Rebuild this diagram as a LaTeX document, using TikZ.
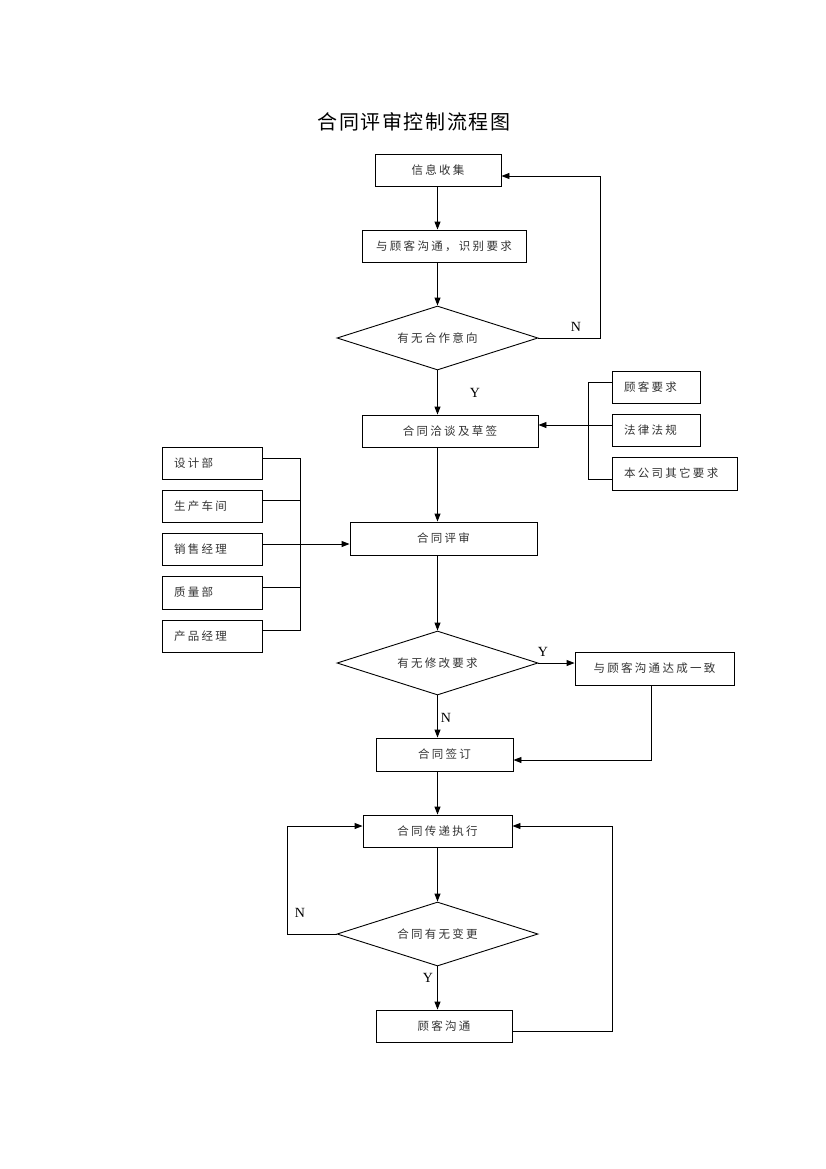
\documentclass[tikz,border=0pt]{standalone}
\usepackage{fontspec}
\setmainfont{Liberation Serif}
\newfontfamily\cjk[LetterSpace=20]{Noto Sans CJK SC}
\newfontfamily\cjktitle[LetterSpace=8]{Noto Sans CJK SC}
\usetikzlibrary{shapes.geometric,arrows.meta}
\begin{document}
\begin{tikzpicture}[x=1pt,y=-1pt,
  line width=0.9pt,
  arr/.style={-{Triangle[length=8pt,width=6pt]}},
  box/.style={draw,minimum width=#1,minimum height=32pt,inner sep=0pt,
    font=\cjk\fontsize{11.5}{13}\selectfont,text=black!80},
  sidebox/.style={draw,minimum height=32pt,inner xsep=12pt,inner ysep=0pt,
    text width=#1,align=left,font=\cjk\fontsize{11.5}{13}\selectfont,text=black!80},
  dia/.style={draw,diamond,aspect=3.14,minimum width=201pt,minimum height=64pt,
    inner sep=0pt,font=\cjk\fontsize{11.5}{13}\selectfont,text=black!80},
  lab/.style={font=\fontsize{14}{16}\selectfont}
]
\useasboundingbox (0,0) rectangle (826,1169);

\node (title) at (414,122) {\cjktitle\fontsize{20}{24}\selectfont 合同评审控制流程图};

\node[box=126] (b1) at (438,170) {信息收集};
\node[box=164] (b2) at (444,246) {与顾客沟通，识别要求};
\node[dia] (d1) at (437.5,338) {有无合作意向};
\node[box=176] (b3) at (450,431) {合同洽谈及草签};
\node[box=187,minimum height=33pt] (b4) at (443.5,538.5) {合同评审};
\node[dia] (d2) at (437.5,663) {有无修改要求};
\node[box=159,minimum height=33pt] (b5) at (654.5,668.5) {与顾客沟通达成一致};
\node[box=137,minimum height=33pt] (b6) at (444.5,754.5) {合同签订};
\node[box=149] (b7) at (437.5,831) {合同传递执行};
\node[dia] (d3) at (437.5,934) {合同有无变更};
\node[box=136] (b8) at (444,1026) {顾客沟通};

\node[sidebox=64pt] (r1) at (656,387) {顾客要求};
\node[sidebox=64pt] (r2) at (656,430) {法律法规};
\node[sidebox=101pt,minimum height=33pt] (r3) at (674.5,473.5) {本公司其它要求};

\node[sidebox=76pt] (l1) at (212,463) {设计部};
\node[sidebox=76pt] (l2) at (212,506) {生产车间};
\node[sidebox=76pt] (l3) at (212,549) {销售经理};
\node[sidebox=76pt,minimum height=33pt] (l4) at (212,592.5) {质量部};
\node[sidebox=76pt] (l5) at (212,636) {产品经理};

\node[lab] (n1) at (576,327) {N};
\node[lab] (y1) at (475,393) {Y};
\node[lab] (y2) at (543,652) {Y};
\node[lab] (n2) at (446,718) {N};
\node[lab] (n3) at (300,913) {N};
\node[lab] (y3) at (428,978) {Y};

% main column
\draw[arr] (b1.south -| d1.north) -- (b2.north -| d1.north);
\draw[arr] (b2.south -| d1.north) -- (d1.north);
\draw[arr] (d1.south) -- (b3.north -| d1.south);
\draw[arr] (b3.south -| d1.north) -- (b4.north -| d1.north);
\draw[arr] (b4.south -| d2.north) -- (d2.north);
\draw[arr] (d2.south) -- (b6.north -| d2.south);
\draw[arr] (b6.south -| d2.south) -- (b7.north -| d2.south);
\draw[arr] (b7.south) -- (d3.north);
\draw[arr] (d3.south) -- (b8.north -| d3.south);

% N loop top
\coordinate (c1) at (600,176);
\draw[arr] (d1.east) -| (c1) -- (c1 -| b1.east);

% Y branch
\draw[arr] (d2.east) -- (b5.west |- d2.east);
\coordinate (c2) at (651,760);
\draw[arr] (b5.south -| c2) -- (c2) -- (c2 -| b6.east);

% bottom loops
\coordinate (c3) at (287,826);
\draw[arr] (d3.west) -| (c3) -- (c3 -| b7.west);
\coordinate (c4) at (612,826);
\coordinate (c5) at (612,1031);
\draw[arr] (c5 -| b8.east) -- (c5) -- (c4) -- (c4 -| b7.east);

% right bracket
\coordinate (rt) at (588,382);
\coordinate (rm) at (588,425);
\coordinate (rb) at (588,479);
\draw (rt -| r1.west) -- (rt) -- (rb) -- (rb -| r3.west);
\draw (rm -| r2.west) -- (rm);
\draw[arr] (rm) -- (rm -| b3.east);

% left bracket
\coordinate (lt) at (300,458);
\coordinate (la) at (300,500);
\coordinate (lm) at (300,544);
\coordinate (lc) at (300,587);
\coordinate (lb) at (300,630);
\draw (lt -| l1.east) -- (lt) -- (lb) -- (lb -| l5.east);
\draw (la -| l2.east) -- (la);
\draw (lc -| l4.east) -- (lc);
\draw (lm -| l3.east) -- (lm);
\draw[arr] (lm) -- (lm -| b4.west);
\end{tikzpicture}
\end{document}
